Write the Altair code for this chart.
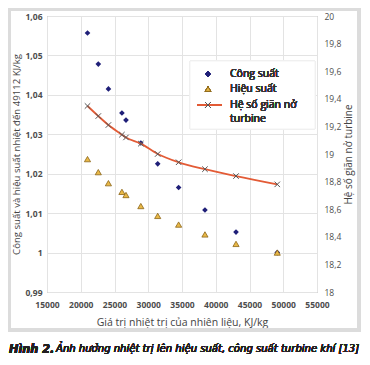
import altair as alt
import pandas as pd

# ---- data ----
heat_value = [21000, 22600, 24100, 26100, 26700, 28900, 31400, 34500, 38400, 43000, 49112]
cong_suat = [1.0557, 1.0478, 1.0415, 1.0354, 1.0336, 1.0278, 1.0225, 1.0165, 1.0108, 1.0052, 1.0000]
hieu_suat = [1.0237, 1.0204, 1.0176, 1.0154, 1.0146, 1.0118, 1.0093, 1.0071, 1.0046, 1.0022, 1.0000]
he_so_gian_no = [19.348, 19.275, 19.21, 19.14, 19.12, 19.075, 19.0, 18.94, 18.89, 18.84, 18.78]

x_ticks = [15000, 20000, 25000, 30000, 35000, 40000, 45000, 50000, 55000]
left_ticks = [0.99, 1.0, 1.01, 1.02, 1.03, 1.04, 1.05, 1.06]
right_ticks = [18.0, 18.2, 18.4, 18.6, 18.8, 19.0, 19.2, 19.4, 19.6, 19.8, 20.0]

legend_labels = ["Công suất", "Hiệu suất", "Hệ số giãn nở", "turbine"]
x_title = "Giá trị nhiệt trị của nhiên liệu, KJ/kg"
left_title = "Công suất và hiệu suất nhiệt đến 49112 KJ/kg"
right_title = "Hệ số giãn nở turbine"
caption_bold = "Hình 2."
caption_rest = "Ảnh hưởng nhiệt trị lên hiệu suất, công suất turbine khí [13]"

df = pd.DataFrame({"x": heat_value, "cs": cong_suat, "hs": hieu_suat, "k": he_so_gian_no})

FONT = "Open Sans"
LBL = "#4d4d4d"
CAPFONT = "DejaVu Sans Condensed, Liberation Sans Narrow, sans-serif"
comma = "replace(format(datum.value, '.2~f'), '.', ',')"

xs = alt.Scale(domain=[15000, 55000], nice=False, zero=False)
ly = alt.Scale(domain=[0.99, 1.06], nice=False, zero=False)
ry = alt.Scale(domain=[18, 20], nice=False, zero=False)

x_axis = alt.Axis(
    values=x_ticks, format="d", title=x_title, grid=True, gridColor="#e3e3e3",
    domain=False, ticks=False, labelPadding=8, labelFontSize=8.5, labelColor=LBL,
    labelFontWeight="bold", labelFont=FONT, titleFont=FONT, titleFontSize=10.5,
    titleFontWeight="normal", titleColor="#444444", titleX=135, titleY=30,
    titleBaseline="middle", labelFlush=False, labelOverlap=False)

left_axis = alt.Axis(
    values=left_ticks, labelExpr=comma, title=left_title, grid=True, gridColor="#e3e3e3",
    domain=False, ticks=False, labelPadding=5, labelFontSize=8.5, labelColor=LBL,
    labelFontWeight="bold", labelFont=FONT, titleFont=FONT, titleFontSize=9.6,
    titleFontWeight="normal", titleColor="#444444", titleAngle=270, titleX=-31, titleY=138,
    titleBaseline="middle", titleAlign="center", labelOverlap=False)

right_axis = alt.Axis(
    orient="right", values=right_ticks, labelExpr=comma, title=right_title, grid=False,
    domain=False, ticks=False, labelPadding=7, labelFontSize=8.5, labelColor=LBL,
    labelFontWeight="normal", labelFont=FONT, titleFont=FONT, titleFontSize=10,
    titleFontWeight="normal", titleColor="#444444", titleAngle=270, titleX=31, titleY=138,
    titleBaseline="middle", titleAlign="center", labelOverlap=False)

diamonds = alt.Chart(df).mark_point(shape="diamond", filled=True, color="#1f1f78", size=32, opacity=1).encode(
    x=alt.X("x:Q", scale=xs, axis=x_axis),
    y=alt.Y("cs:Q", scale=ly, axis=left_axis),
)
triangles = alt.Chart(df).mark_point(shape="triangle-up", filled=True, fill="#e9b846", stroke="#8a6418",
                                     strokeWidth=0.8, size=38, opacity=1).encode(
    x=alt.X("x:Q", scale=xs, axis=x_axis),
    y=alt.Y("hs:Q", scale=ly, axis=left_axis))

# manual legend + frame + caption
frame = alt.Chart(df).mark_rect(fill="transparent", stroke="#dcdcdc", strokeWidth=3).encode(
    x=alt.value(-38), x2=alt.value(312), y=alt.value(-7), y2=alt.value(314))
leg_box = alt.Chart(df).mark_rect(fill="white", stroke="#f0f0f0", strokeWidth=0.8).encode(
    x=alt.value(143), x2=alt.value(268), y=alt.value(45), y2=alt.value(113))
leg_d = alt.Chart(df).mark_point(shape="diamond", filled=True, color="#1f1f78", size=28, opacity=1).encode(
    x=alt.value(161), y=alt.value(58))
leg_t = alt.Chart(df).mark_point(shape="triangle-up", filled=True, fill="#e9b846", stroke="#8a6418",
                                 strokeWidth=0.8, size=30, opacity=1).encode(x=alt.value(161), y=alt.value(73))
leg_l = alt.Chart(df).mark_rule(color="#e35b36", strokeWidth=1.8).encode(
    x=alt.value(150), x2=alt.value(175), y=alt.value(89))
leg_x = alt.Chart(df).mark_point(shape="M-1,-1L1,1M-1,1L1,-1", filled=False, stroke="#555555",
                                 strokeWidth=1, size=30, opacity=1).encode(x=alt.value(161), y=alt.value(89))
leg_txt = [
    alt.Chart(df).mark_text(text=t, align="left", baseline="middle", font=FONT, fontSize=10.5,
                            color="#333333").encode(x=alt.value(183), y=alt.value(yy))
    for t, yy in zip(legend_labels, [58, 73, 89, 103])
]
cap1 = alt.Chart(df).mark_text(text=caption_bold, align="left", baseline="middle", font=CAPFONT,
                               fontSize=12.5, fontWeight="bold", fontStyle="italic", color="#231f20").encode(
    x=alt.value(-38), y=alt.value(333))
cap2 = alt.Chart(df).mark_text(text=caption_rest, align="left", baseline="middle", font=CAPFONT,
                               fontSize=11.2, fontStyle="italic", color="#231f20").encode(
    x=alt.value(9), y=alt.value(333))

left = alt.layer(frame, diamonds, triangles, leg_box, leg_d, leg_t, leg_l, leg_x, *leg_txt, cap1, cap2)

line = alt.Chart(df).mark_line(color="#e35b36", strokeWidth=1.8, interpolate="monotone").encode(
    x=alt.X("x:Q", scale=xs, axis=x_axis),
    y=alt.Y("k:Q", scale=ry, axis=right_axis))
xmarks = alt.Chart(df).mark_point(shape="M-1,-1L1,1M-1,1L1,-1", filled=False, stroke="#555555",
                                  strokeWidth=1, size=30, opacity=1).encode(
    x=alt.X("x:Q", scale=xs, axis=x_axis),
    y=alt.Y("k:Q", scale=ry, axis=right_axis))
right = alt.layer(line, xmarks)

chart = alt.layer(left, right).resolve_scale(y="independent").properties(
    width=270, height=276,
    padding={"left": 39, "top": 8, "right": 45, "bottom": 67},
    autosize=alt.AutoSizeParams(type="none"),
).configure_view(stroke="#9a9a9a", strokeWidth=1)

chart.save("out.html", embed_options={"renderer": "svg", "actions": False})
